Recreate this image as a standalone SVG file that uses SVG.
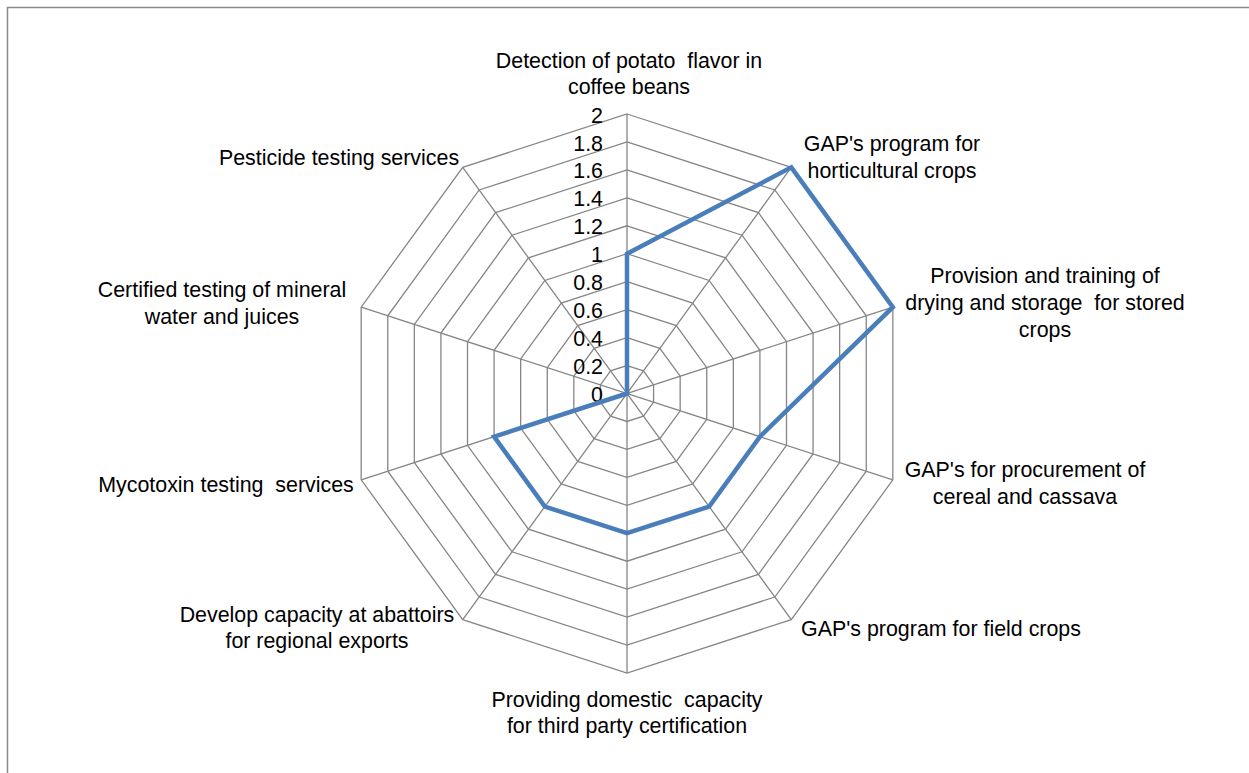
<svg xmlns="http://www.w3.org/2000/svg" xmlns:xlink="http://www.w3.org/1999/xlink" width="1249" height="773" viewBox="0 0 1249 773">
  <style>
    .lbl { font-family: "Liberation Sans", Arial, sans-serif; font-size: 21.4px; fill: #000; white-space: pre; }
    .mid { text-anchor: middle; }
    .tick { font-family: "Liberation Sans", Arial, sans-serif; font-size: 21.4px; fill: #000; text-anchor: end; }
    .ring { fill: none; stroke: #868686; stroke-width: 1.3; vector-effect: non-scaling-stroke; }
    .spoke { stroke: #868686; stroke-width: 1.3; }
    .series { fill: none; stroke: #4A7EBB; stroke-width: 4.5; stroke-linejoin: miter; }
  </style>
  <defs>
    <polygon id="deca" class="ring" points="0,-1 0.587785,-0.809017 0.951057,-0.309017 0.951057,0.309017 0.587785,0.809017 0,1 -0.587785,0.809017 -0.951057,0.309017 -0.951057,-0.309017 -0.587785,-0.809017"/>
  </defs>
  <rect x="0" y="0" width="1249" height="773" fill="#ffffff"/>
  <rect id="frame" x="7.5" y="7.5" width="1270" height="800" fill="#ffffff" stroke="#8a8a8a" stroke-width="1.5"/>

  <g id="grid">
    <use xlink:href="#deca" transform="translate(627 393.5) scale(27.95)"/>
    <use xlink:href="#deca" transform="translate(627 393.5) scale(55.9)"/>
    <use xlink:href="#deca" transform="translate(627 393.5) scale(83.85)"/>
    <use xlink:href="#deca" transform="translate(627 393.5) scale(111.8)"/>
    <use xlink:href="#deca" transform="translate(627 393.5) scale(139.75)"/>
    <use xlink:href="#deca" transform="translate(627 393.5) scale(167.7)"/>
    <use xlink:href="#deca" transform="translate(627 393.5) scale(195.65)"/>
    <use xlink:href="#deca" transform="translate(627 393.5) scale(223.6)"/>
    <use xlink:href="#deca" transform="translate(627 393.5) scale(251.55)"/>
    <use xlink:href="#deca" transform="translate(627 393.5) scale(279.5)"/>
  </g>

  <g id="connectors">
    <line class="spoke" x1="627" y1="114" x2="627" y2="673"/>
    <line class="spoke" x1="791.29" y1="167.38" x2="462.71" y2="619.62"/>
    <line class="spoke" x1="892.82" y1="307.13" x2="361.18" y2="479.87"/>
    <line class="spoke" x1="892.82" y1="479.87" x2="361.18" y2="307.13"/>
    <line class="spoke" x1="791.29" y1="619.62" x2="462.71" y2="167.38"/>
  </g>

  <g id="ticks">
    <text class="tick" x="603" y="402">0</text>
    <text class="tick" x="603" y="374">0.2</text>
    <text class="tick" x="603" y="346.1">0.4</text>
    <text class="tick" x="603" y="318.2">0.6</text>
    <text class="tick" x="603" y="290.2">0.8</text>
    <text class="tick" x="603" y="262.3">1</text>
    <text class="tick" x="603" y="234.3">1.2</text>
    <text class="tick" x="603" y="206.4">1.4</text>
    <text class="tick" x="603" y="178.4">1.6</text>
    <text class="tick" x="603" y="150.5">1.8</text>
    <text class="tick" x="603" y="122.5">2</text>
  </g>

  <g id="series">
    <polygon class="series" points="627,253.75 791.29,167.38 892.82,307.13 759.91,436.68 709.14,506.56 627,533.25 544.86,506.56 494.09,436.68 627,393.5 627,393.5"/>
  </g>

  <g id="node-detection">
    <text class="lbl mid" x="629" y="68">Detection of potato  flavor in</text>
    <text class="lbl mid" x="629" y="94">coffee beans</text>
  </g>
  <g id="node-horticultural">
    <text class="lbl mid" x="892" y="151">GAP's program for</text>
    <text class="lbl mid" x="892" y="178">horticultural crops</text>
  </g>
  <g id="node-drying">
    <text class="lbl mid" x="1045" y="283">Provision and training of</text>
    <text class="lbl mid" x="1045" y="310">drying and storage  for stored</text>
    <text class="lbl mid" x="1045" y="337">crops</text>
  </g>
  <g id="node-procurement">
    <text class="lbl mid" x="1025" y="477">GAP's for procurement of</text>
    <text class="lbl mid" x="1025" y="504">cereal and cassava</text>
  </g>
  <g id="node-field">
    <text class="lbl mid" x="941" y="636">GAP's program for field crops</text>
  </g>
  <g id="node-certification">
    <text class="lbl mid" x="627" y="706.5">Providing domestic  capacity</text>
    <text class="lbl mid" x="627" y="733">for third party certification</text>
  </g>
  <g id="node-abattoirs">
    <text class="lbl mid" x="317" y="622">Develop capacity at abattoirs</text>
    <text class="lbl mid" x="317" y="648">for regional exports</text>
  </g>
  <g id="node-mycotoxin">
    <text class="lbl mid" x="226" y="492">Mycotoxin testing  services</text>
  </g>
  <g id="node-mineral">
    <text class="lbl mid" x="222" y="297">Certified testing of mineral</text>
    <text class="lbl mid" x="222" y="324">water and juices</text>
  </g>
  <g id="node-pesticide">
    <text class="lbl mid" x="339" y="165">Pesticide testing services</text>
  </g>
</svg>
